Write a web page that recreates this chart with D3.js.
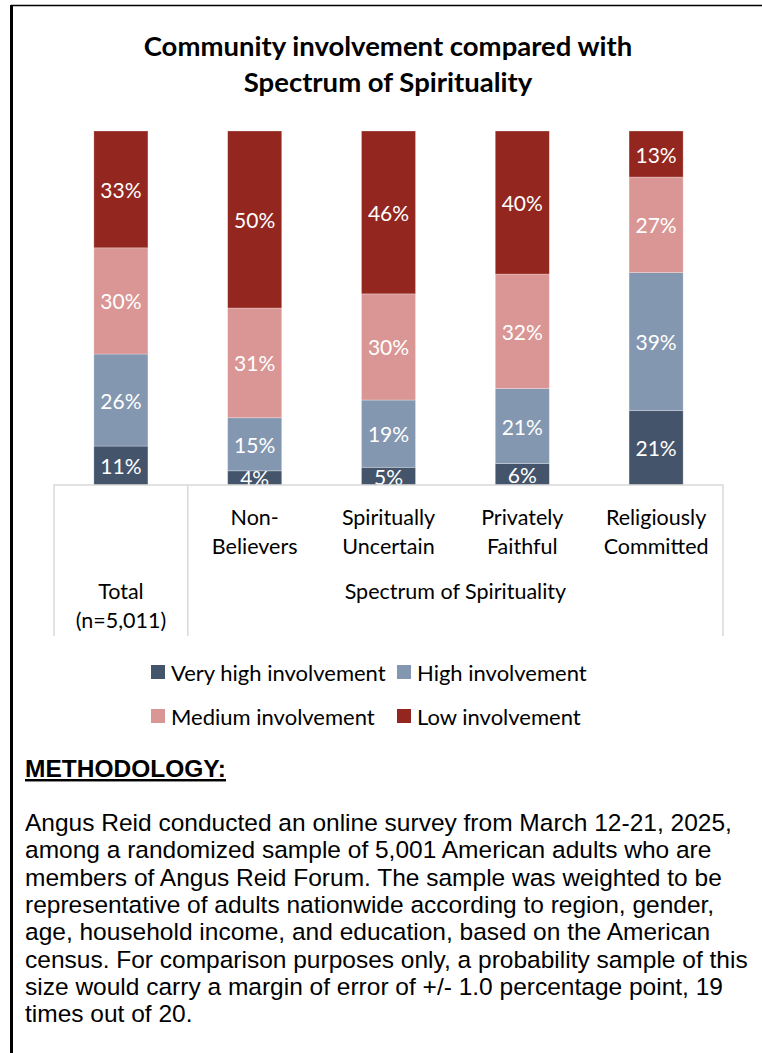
<!DOCTYPE html>
<meta charset="utf-8">
<style>
    body { margin: 0; background: #fff; }
    svg { display: block; }
    .title { font-family: Lato, sans-serif; font-weight: 700; font-size: 27.5px; fill: #000; }
    .cat { font-family: Lato, sans-serif; font-size: 21.5px; fill: #000; }
    .legend text { font-family: Lato, sans-serif; font-size: 22px; fill: #000; }
    .val { font-family: Lato, sans-serif; font-size: 21px; fill: #fff; }
    .method { font-family: "Liberation Sans", Arial, sans-serif; font-size: 24.5px; fill: #000; }
</style>
<svg width="762" height="1053"></svg>
<script src="https://d3js.org/d3.v7.min.js"></script>
<script>

    // data
    var categories = ["Total", "Non-Believers", "Spiritually Uncertain", "Privately Faithful", "Religiously Committed"];
    var catLines = [["Total", "(n=5,011)"], ["Non-", "Believers"], ["Spiritually", "Uncertain"], ["Privately", "Faithful"], ["Religiously", "Committed"]];
    var seriesNames = ["Very high involvement", "High involvement", "Medium involvement", "Low involvement"];
    var veryHigh = [11, 4, 5, 6, 21];
    var high = [26, 15, 19, 21, 39];
    var medium = [30, 31, 30, 32, 27];
    var low = [33, 50, 46, 40, 13];
    var colors = ["#44546a", "#8497b0", "#da9694", "#93261f"];

    var methodText = [
        "Angus Reid conducted an online survey from March 12-21, 2025,",
        "among a randomized sample of 5,001 American adults who are",
        "members of Angus Reid Forum. The sample was weighted to be",
        "representative of adults nationwide according to region, gender,",
        "age, household income, and education, based on the American",
        "census. For comparison purposes only, a probability sample of this",
        "size would carry a margin of error of +/- 1.0 percentage point, 19",
        "times out of 20."
    ];

    var svg = d3.select("svg");

    // outer frame
    svg.append("line").attr("x1", 11).attr("x2", 762).attr("y1", 5.5).attr("y2", 5.5)
        .attr("stroke", "#000").attr("stroke-width", 1.5);
    svg.append("line").attr("x1", 11.5).attr("x2", 11.5).attr("y1", 5).attr("y2", 1053)
        .attr("stroke", "#000").attr("stroke-width", 3);

    // title
    svg.append("text").attr("class", "title").attr("text-anchor", "middle")
        .attr("x", 388).attr("y", 56).text("Community involvement compared with");
    svg.append("text").attr("class", "title").attr("text-anchor", "middle")
        .attr("x", 388).attr("y", 92).text("Spectrum of Spirituality");

    var x = d3.scaleBand().domain(categories).range([54, 723])
        .paddingInner(0.596).paddingOuter(0.298);
    var y = d3.scaleLinear().domain([0, 1]).range([485, 131]);

    var rows = categories.map(function (c, i) {
        return {cat: c, v0: veryHigh[i], v1: high[i], v2: medium[i], v3: low[i]};
    });
    // 100% stacked, like the original
    var stack = d3.stack().keys(["v0", "v1", "v2", "v3"]).offset(d3.stackOffsetExpand);
    var series = stack(rows);

    svg.append("clipPath").attr("id", "plot")
        .append("rect").attr("x", 0).attr("y", 0).attr("width", 762).attr("height", 485);

    var g = svg.append("g").attr("clip-path", "url(#plot)");

    var layer = g.selectAll("g.layer")
        .data(series)
        .enter().append("g")
        .attr("class", "layer")
        .attr("fill", function (d, i) { return colors[i]; });

    layer.selectAll("rect")
        .data(function (d) { return d; })
        .enter().append("rect")
        .attr("x", function (d) { return x(d.data.cat); })
        .attr("width", x.bandwidth())
        .attr("y", function (d) { return y(d[1]); })
        .attr("height", function (d) { return y(d[0]) - y(d[1]); })
        .attr("stroke", "rgba(255,255,255,0.35)")
        .attr("stroke-width", 0.75);

    layer.selectAll("text")
        .data(function (d) { return d.map(function (p) { return [p, d.key]; }); })
        .enter().append("text")
        .attr("class", "val")
        .attr("text-anchor", "middle")
        .attr("dominant-baseline", "central")
        .attr("x", function (d) { return x(d[0].data.cat) + x.bandwidth() / 2; })
        .attr("y", function (d) { return (y(d[0][0]) + y(d[0][1])) / 2; })
        .text(function (d) { return d[0].data[d[1]] + "%"; });

    // category axis box
    var axisColor = "#d9d9d9";
    var divider = (x(categories[0]) + x.bandwidth() + x(categories[1])) / 2;
    svg.append("path")
        .attr("d", "M54,636V485H723V636M" + divider + ",485V636")
        .attr("fill", "none").attr("stroke", axisColor).attr("stroke-width", 1.5);

    catLines.forEach(function (lines, i) {
        var cx = x(categories[i]) + x.bandwidth() / 2;
        var top = i === 0 ? 599 : 525;
        lines.forEach(function (t, j) {
            svg.append("text").attr("class", "cat").attr("text-anchor", "middle")
                .attr("x", cx).attr("y", top + j * 29).text(t);
        });
    });
    svg.append("text").attr("class", "cat").attr("text-anchor", "middle")
        .attr("x", (divider + 723) / 2).attr("y", 599).text("Spectrum of Spirituality");

    // legend
    var legendPos = [[151, 665], [397, 665], [151, 709], [397, 709]];
    var legend = svg.append("g").attr("class", "legend")
        .selectAll("g").data(seriesNames).enter().append("g")
        .attr("transform", function (d, i) { return "translate(" + legendPos[i][0] + "," + legendPos[i][1] + ")"; });
    legend.append("rect").attr("width", 14).attr("height", 14)
        .attr("fill", function (d, i) { return colors[i]; });
    legend.append("text").attr("x", 20).attr("y", 7).attr("dominant-baseline", "central")
        .text(function (d) { return d; });

    // methodology
    svg.append("text").attr("class", "method")
        .attr("x", 25).attr("y", 777).attr("font-weight", 700)
        .attr("text-decoration", "underline").text("METHODOLOGY:");

    svg.append("g").selectAll("text").data(methodText).enter().append("text")
        .attr("class", "method")
        .attr("x", 25)
        .attr("y", function (d, i) { return 831 + i * 27.3; })
        .text(function (d) { return d; });

</script>
